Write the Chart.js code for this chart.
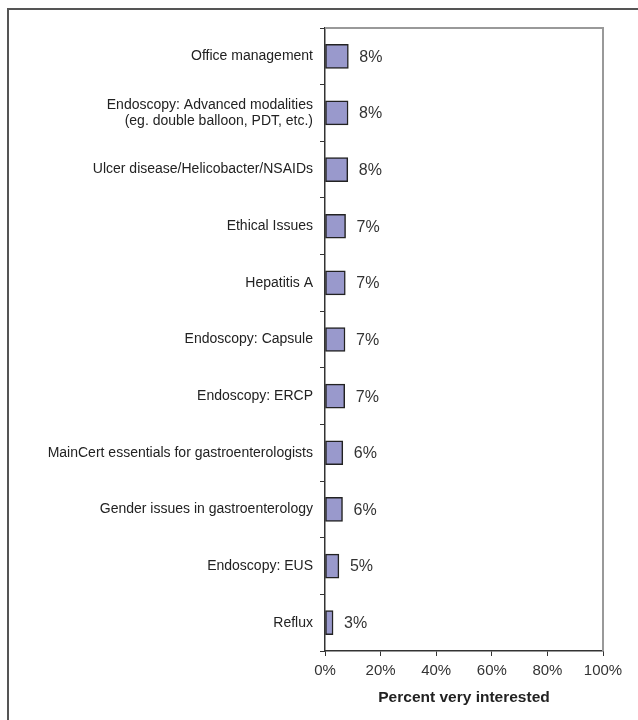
<!DOCTYPE html>
<html>
<head>
<meta charset="utf-8">
<script src="https://cdn.jsdelivr.net/npm/chart.js@4/dist/chart.umd.min.js"></script>
<style>
  html, body { margin: 0; padding: 0; background: #fff; overflow: hidden; }
  #wrap { position: relative; width: 638px; height: 720px; }
  #marco { position: absolute; left: 7px; top: 8px; width: 700px; height: 800px;
           border-left: 2px solid #555; border-top: 2px solid #555; }
  #grafico { position: absolute; left: 0; top: 0; }
</style>
</head>
<body>
<div id="wrap">
  <div id="marco"></div>
  <canvas id="grafico" width="638" height="720"></canvas>
</div>
<script>
// datos
const temas = [
  'Office management',
  ['Endoscopy: Advanced modalities', '(eg. double balloon, PDT, etc.)'],
  'Ulcer disease/Helicobacter/NSAIDs',
  'Ethical Issues',
  'Hepatitis A',
  'Endoscopy: Capsule',
  'Endoscopy: ERCP',
  'MainCert essentials for gastroenterologists',
  'Gender issues in gastroenterology',
  'Endoscopy: EUS',
  'Reflux'
];
const porcentajes = [8.4, 8.3, 8.2, 7.4, 7.3, 7.2, 7.1, 6.4, 6.3, 5.0, 2.9];
const etiquetas = ['8%', '8%', '8%', '7%', '7%', '7%', '7%', '6%', '6%', '5%', '3%'];
const ticksX = [0, 20, 40, 60, 80, 100];

const fuente = "'Liberation Sans', Arial, sans-serif";

// etiquetas de valor al final de cada barra
const valores = {
  id: 'valores',
  afterDatasetsDraw(chart) {
    const ctx = chart.ctx;
    const meta = chart.getDatasetMeta(0);
    ctx.save();
    ctx.font = '16px ' + fuente;
    ctx.fillStyle = '#333';
    ctx.textAlign = 'left';
    ctx.textBaseline = 'middle';
    meta.data.forEach((bar, i) => {
      ctx.fillText(etiquetas[i], bar.x + 11, bar.y + 1);
    });
    ctx.restore();
  }
};

// borde gris arriba y a la derecha del area
const bordeArea = {
  id: 'bordeArea',
  afterDraw(chart) {
    const a = chart.chartArea;
    const ctx = chart.ctx;
    ctx.save();
    ctx.strokeStyle = '#999';
    ctx.lineWidth = 2;
    ctx.beginPath();
    ctx.moveTo(a.left, a.top);
    ctx.lineTo(a.right, a.top);
    ctx.lineTo(a.right, a.bottom);
    ctx.stroke();
    ctx.restore();
  }
};

const ctx = document.getElementById('grafico').getContext('2d');
new Chart(ctx, {
  type: 'bar',
  data: {
    labels: temas,
    datasets: [{
      data: porcentajes,
      backgroundColor: '#9999cc',
      borderColor: '#222',
      borderWidth: 1.5,
      borderSkipped: false,
      barThickness: 24
    }]
  },
  options: {
    indexAxis: 'y',
    responsive: false,
    animation: false,
    layout: { padding: { left: 0, right: 35, top: 28, bottom: 0 } },
    plugins: { legend: { display: false }, tooltip: { enabled: false } },
    scales: {
      x: {
        min: 0,
        max: 100,
        afterBuildTicks: (s) => { s.ticks = ticksX.map(v => ({ value: v })); },
        afterFit: (s) => { s.height = 69; },
        grid: { drawOnChartArea: false, tickLength: 5, color: '#333', lineWidth: 1 },
        border: { color: '#333', width: 1.5 },
        ticks: {
          color: '#333',
          padding: 6,
          font: { family: fuente, size: 15 },
          callback: (v) => v + '%'
        },
        title: {
          display: true,
          text: 'Percent very interested',
          color: '#222',
          font: { family: fuente, size: 15.5, weight: 'bold' },
          padding: { top: 0, bottom: 13 }
        }
      },
      y: {
        afterFit: (s) => { s.width = 325; },
        grid: { drawOnChartArea: false, tickLength: 5, color: '#333', lineWidth: 1, offset: true },
        border: { color: '#333', width: 1.5 },
        ticks: {
          color: '#222',
          padding: 7,
          font: { family: fuente, size: 14, lineHeight: 1.15 }
        }
      }
    }
  },
  plugins: [valores, bordeArea]
});
</script>
</body>
</html>
